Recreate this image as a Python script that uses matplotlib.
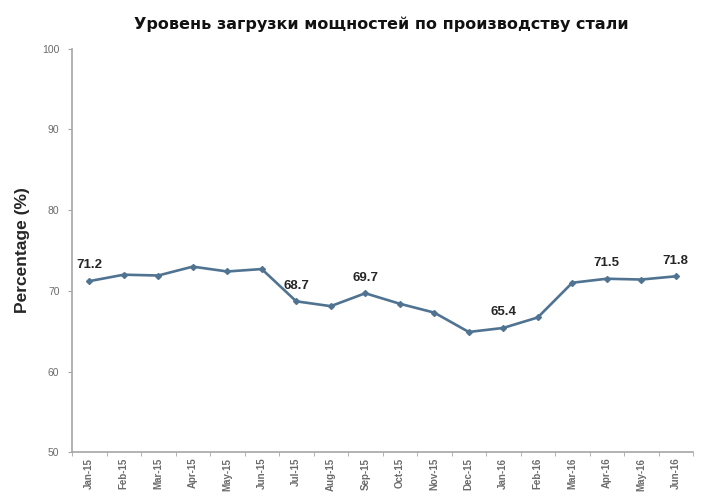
import matplotlib
matplotlib.use('Agg')
import matplotlib.pyplot as plt

# Data
months = ['Jan-15', 'Feb-15', 'Mar-15', 'Apr-15', 'May-15', 'Jun-15',
          'Jul-15', 'Aug-15', 'Sep-15', 'Oct-15', 'Nov-15', 'Dec-15',
          'Jan-16', 'Feb-16', 'Mar-16', 'Apr-16', 'May-16', 'Jun-16']
utilisation = [71.2, 72.0, 71.9, 73.0, 72.4, 72.7,
               68.7, 68.1, 69.7, 68.4, 67.3, 64.9,
               65.4, 66.7, 71.0, 71.5, 71.4, 71.8]
labelled = ['Jan-15', 'Jul-15', 'Sep-15', 'Jan-16', 'Apr-16', 'Jun-16']
y_ticks = [50, 60, 70, 80, 90, 100]

line_color = '#4f7391'
axis_color = '#a6a6a6'
tick_color = '#6b6b6b'

fig = plt.figure(figsize=(7.2, 4.98), dpi=100)
ax = fig.add_axes([0.1, 0.092, 0.8625, 0.81])

x = list(range(len(months)))
ax.plot(x, utilisation, color=line_color, linewidth=1.9, marker='D',
        markersize=3, markerfacecolor=line_color, markeredgecolor=line_color)

# Data labels on selected points
for i, m in enumerate(months):
    if m in labelled:
        ax.annotate(f'{utilisation[i]:.1f}', (i, utilisation[i]),
                    xytext=(0, 7), textcoords='offset points',
                    ha='center', va='bottom', fontsize=9.5, fontweight='bold',
                    color='#262626', family='Liberation Sans')

ax.set_xlim(-0.5, len(months) - 0.5)
ax.set_ylim(50, 100)
ax.set_yticks(y_ticks)
ax.set_yticklabels([str(v) for v in y_ticks], fontsize=7.5, color=tick_color,
                   family='Liberation Sans')

# Category labels at centres, tick marks between categories
ax.set_xticks(x)
ax.set_xticklabels(months, rotation=90, fontsize=7, fontweight='bold',
                   color=tick_color, family='Liberation Sans')
ax.set_xticks([i - 0.5 for i in range(len(months) + 1)], minor=True)
ax.tick_params(axis='x', which='major', length=0, pad=4)
ax.tick_params(axis='x', which='minor', length=3, color=axis_color)
ax.tick_params(axis='y', length=3, color=axis_color, pad=6)

for side in ['top', 'right']:
    ax.spines[side].set_visible(False)
for side in ['left', 'bottom']:
    ax.spines[side].set_color(axis_color)
    ax.spines[side].set_linewidth(1.2)

ax.set_ylabel('Percentage (%)', fontsize=12.5, fontweight='bold',
              color='#262626', family='Liberation Sans', labelpad=9)

fig.text(0.529, 0.952, 'Уровень загрузки мощностей по производству стали',
         ha='center', va='center', fontsize=11.5, fontweight='bold',
         family='DejaVu Sans', color='#111111')

plt.savefig('out.png', dpi=100)
